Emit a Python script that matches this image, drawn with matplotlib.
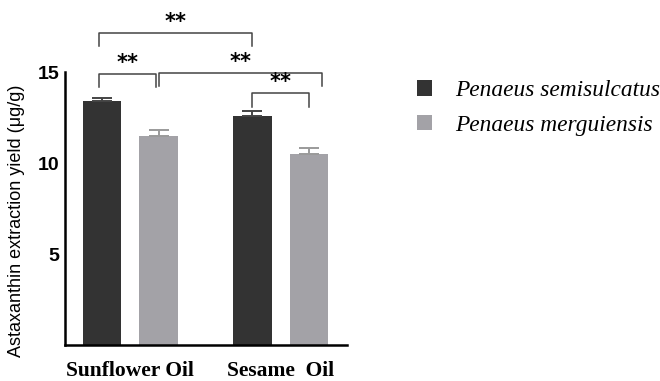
import numpy as np
import matplotlib
matplotlib.use('Agg')
import matplotlib.pyplot as plt

# Dados
oils = ['Sunflower Oil', 'Sesame  Oil']
species = ['Penaeus semisulcatus', 'Penaeus merguiensis']
semisulcatus = [13.4, 12.6]
semisulcatus_err = [0.2, 0.25]
merguiensis = [11.5, 10.5]
merguiensis_err = [0.3, 0.32]
yticks = [5, 10, 15]

# colchetes de significância: (x1, x2, y, altura, texto)
brackets = [
    (-0.55, 2.16, 17.16, 0.73, '**'),
    (-0.55, 0.46, 14.89, 0.71, '**'),
    (0.50, 3.39, 14.95, 0.71, '**'),
    (2.15, 3.16, 13.85, 0.77, '**'),
]

dark = '#333333'
light = '#a3a2a7'

fig = plt.figure(figsize=(6.6, 3.81), dpi=100)
ax = fig.add_axes([0.0985, 0.0932, 0.4273, 0.7178])

group_pos = np.array([0.0, 2.66])
width = 0.68

ax.bar(group_pos - 0.5, semisulcatus, width, color=dark, label=species[0],
       yerr=[[0, 0], semisulcatus_err], error_kw=dict(ecolor='#444444', elinewidth=1.4, capsize=7, capthick=1.4))
ax.bar(group_pos + 0.5, merguiensis, width, color=light, label=species[1],
       yerr=[[0, 0], merguiensis_err], error_kw=dict(ecolor='#9a9a9a', elinewidth=1.4, capsize=7, capthick=1.4))

ax.set_xlim(-1.155, 3.836)
ax.set_ylim(0, 15)

for s in ['top', 'right']:
    ax.spines[s].set_visible(False)
for s in ['left', 'bottom']:
    ax.spines[s].set_linewidth(1.8)

ax.set_yticks(yticks)
ax.set_yticklabels([str(v) for v in yticks], fontsize=14, fontweight='bold', family='Liberation Sans')
ax.tick_params(axis='y', length=0, pad=4)
ax.set_xticks(group_pos)
ax.set_xticklabels(oils, fontsize=15.5, fontweight='bold', family='Liberation Serif')
ax.tick_params(axis='x', length=0, pad=11)

fig.text(0.025, 0.42, 'Astaxanthin extraction yield (μg/g)', rotation=90,
         ha='center', va='center', fontsize=13, family='Liberation Sans')

for x1, x2, y, h, txt in brackets:
    ax.plot([x1, x1, x2, x2], [y - h, y, y, y - h], color='#444444', lw=1.1, clip_on=False)
    ax.text((x1 + x2) / 2, y + 0.05, txt, ha='center', va='bottom', fontsize=15,
            fontweight='bold', clip_on=False)

ax.legend(loc='upper left', bbox_to_anchor=(417 / 660, 1 - 80 / 381),
          bbox_transform=fig.transFigure, frameon=False, borderpad=0, borderaxespad=0,
          handlelength=0.64, handleheight=0.64, handletextpad=0.98, labelspacing=0.58,
          prop=dict(family='Liberation Serif', style='italic', size=16.8))

plt.savefig('out.png', dpi=100)
